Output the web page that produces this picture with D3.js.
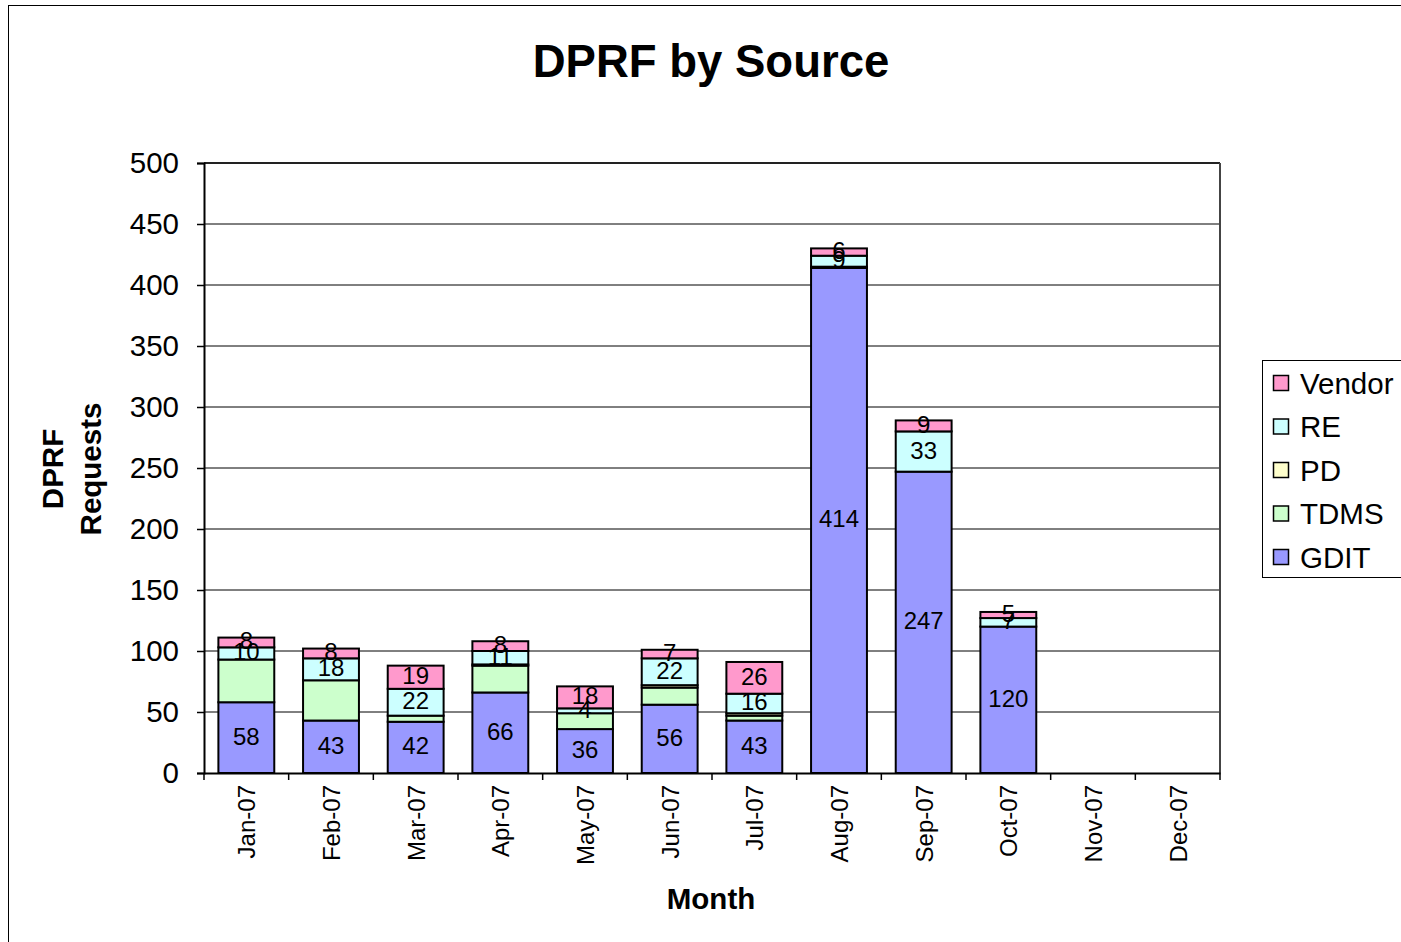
<!DOCTYPE html>
<html>
<head>
<meta charset="utf-8">
<script src="https://cdn.jsdelivr.net/npm/d3@7/dist/d3.min.js"></script>
<style>
  html, body { margin: 0; padding: 0; background: #fff; }
  svg { display: block; font-family: "Liberation Sans", Arial, sans-serif; }
</style>
</head>
<body>
<svg id="chart" width="1401" height="942"></svg>
<script>
const months = ["Jan-07","Feb-07","Mar-07","Apr-07","May-07","Jun-07","Jul-07","Aug-07","Sep-07","Oct-07","Nov-07","Dec-07"];
const GDIT   = [58, 43, 42, 66, 36, 56, 43, 414, 247, 120, 0, 0];
const TDMS   = [35, 33,  5, 22, 13, 14,  4,   1,   0,   0, 0, 0];
const PD     = [ 0,  0,  0,  1,  0,  2,  2,   0,   0,   0, 0, 0];
const RE     = [10, 18, 22, 11,  4, 22, 16,   9,  33,   7, 0, 0];
const Vendor = [ 8,  8, 19,  8, 18,  7, 26,   6,   9,   5, 0, 0];
const seriesNames = ["GDIT","TDMS","PD","RE","Vendor"];
const seriesValues = {GDIT, TDMS, PD, RE, Vendor};
const labelled = ["GDIT","RE","Vendor"];
const colors = {GDIT:"#9999FF", TDMS:"#CCFFCC", PD:"#FFFFCC", RE:"#CCFFFF", Vendor:"#FF99CC"};
const yTicks = [0,50,100,150,200,250,300,350,400,450,500];

const svg = d3.select("#chart");
const pLeft = 204, pRight = 1220, pTop = 163, pBottom = 773;

// outer frame
svg.append("rect").attr("x", 8.5).attr("y", 5.5).attr("width", 1500).attr("height", 1000)
  .attr("fill", "none").attr("stroke", "#000").attr("stroke-width", 1);

const table = months.map((m, i) => {
  const o = {month: m};
  seriesNames.forEach(s => o[s] = seriesValues[s][i]);
  return o;
});
const stacked = d3.stack().keys(seriesNames)(table);

const x = d3.scaleBand().domain(months).range([pLeft, pRight]).paddingInner(0.34).paddingOuter(0.17);
const y = d3.scaleLinear().domain([0, 500]).range([pBottom, pTop]);

// gridlines
svg.append("g").selectAll("line").data(yTicks.filter(t => t > 0)).join("line")
  .attr("x1", pLeft).attr("x2", pRight)
  .attr("y1", d => y(d)).attr("y2", d => y(d))
  .attr("stroke", "#000").attr("stroke-width", 1);

// plot border top/right
svg.append("line").attr("x1", pLeft).attr("x2", pRight).attr("y1", pTop).attr("y2", pTop)
  .attr("stroke", "#222").attr("stroke-width", 2);
svg.append("line").attr("x1", pRight).attr("x2", pRight).attr("y1", pTop).attr("y2", pBottom)
  .attr("stroke", "#444").attr("stroke-width", 2);

// bars
const gBars = svg.append("g");
stacked.forEach(layer => {
  gBars.append("g").selectAll("rect").data(layer.filter(d => d[1] - d[0] > 0)).join("rect")
    .attr("x", d => x(d.data.month))
    .attr("width", x.bandwidth())
    .attr("y", d => y(d[1]))
    .attr("height", d => y(d[0]) - y(d[1]))
    .attr("fill", colors[layer.key])
    .attr("stroke", "#000").attr("stroke-width", 2);
});

// labels
stacked.filter(l => labelled.includes(l.key)).forEach(layer => {
  svg.append("g").selectAll("text").data(layer.filter(d => d[1] - d[0] > 0)).join("text")
    .attr("x", d => x(d.data.month) + x.bandwidth() / 2)
    .attr("y", d => (y(d[0]) + y(d[1])) / 2 - 1.5)
    .attr("text-anchor", "middle")
    .attr("dominant-baseline", "central")
    .attr("font-size", 24)
    .attr("fill", "#000")
    .text(d => d[1] - d[0]);
});

// y axis
const yAxis = d3.axisLeft(y).tickValues(yTicks).tickSize(7).tickPadding(18);
const gy = svg.append("g").attr("transform", `translate(${pLeft},0)`).call(yAxis);
gy.select(".domain").attr("stroke", "#000").attr("stroke-width", 2);
gy.selectAll(".tick line").attr("stroke", "#000").attr("stroke-width", 1.5);
gy.selectAll(".tick text").attr("font-size", 29.5).attr("fill", "#000")
  .attr("font-family", "Liberation Sans, Arial, sans-serif");

// x axis
const xAxis = d3.axisBottom(x).tickSize(0).tickPadding(0);
const gx = svg.append("g").attr("transform", `translate(0,${pBottom})`).call(xAxis);
gx.select(".domain").attr("stroke", "#000").attr("stroke-width", 2);
gx.selectAll(".tick text")
  .attr("font-size", 24).attr("fill", "#000")
  .attr("font-family", "Liberation Sans, Arial, sans-serif")
  .attr("text-anchor", "end")
  .attr("dy", null).attr("y", 0)
  .attr("transform", "translate(9,12) rotate(-90)");
// category boundary ticks
const bounds = months.map(m => x(m) - x.step() * x.paddingInner() / 2).concat([pRight]);
svg.append("g").selectAll("line").data(bounds).join("line")
  .attr("x1", d => d).attr("x2", d => d).attr("y1", pBottom).attr("y2", pBottom + 7)
  .attr("stroke", "#000").attr("stroke-width", 1.5);

// titles
svg.append("text").attr("x", 711).attr("y", 77).attr("text-anchor", "middle")
  .attr("font-size", 45.5).attr("font-weight", "bold").text("DPRF by Source");
svg.append("text").attr("x", 711).attr("y", 909).attr("text-anchor", "middle")
  .attr("font-size", 29.5).attr("font-weight", "bold").text("Month");
svg.append("text").attr("transform", "translate(63,469) rotate(-90)").attr("text-anchor", "middle")
  .attr("font-size", 29.5).attr("font-weight", "bold").text("DPRF");
svg.append("text").attr("transform", "translate(101,469) rotate(-90)").attr("text-anchor", "middle")
  .attr("font-size", 29.5).attr("font-weight", "bold").text("Requests");

// legend
const legendOrder = ["Vendor","RE","PD","TDMS","GDIT"];
const lg = svg.append("g");
lg.append("rect").attr("x", 1262.5).attr("y", 360.5).attr("width", 200).attr("height", 217)
  .attr("fill", "#fff").attr("stroke", "#000").attr("stroke-width", 1);
const items = lg.selectAll("g.item").data(legendOrder).join("g")
  .attr("transform", (d, i) => `translate(1273,${383 + i * 43.5})`);
items.append("rect").attr("x", 0.5).attr("y", -7.5).attr("width", 15).attr("height", 15)
  .attr("fill", d => colors[d]).attr("stroke", "#000").attr("stroke-width", 1.5);
items.append("text").attr("x", 27).attr("y", 0).attr("dominant-baseline", "central")
  .attr("font-size", 29.5).attr("fill", "#000").text(d => d);
</script>
</body>
</html>
